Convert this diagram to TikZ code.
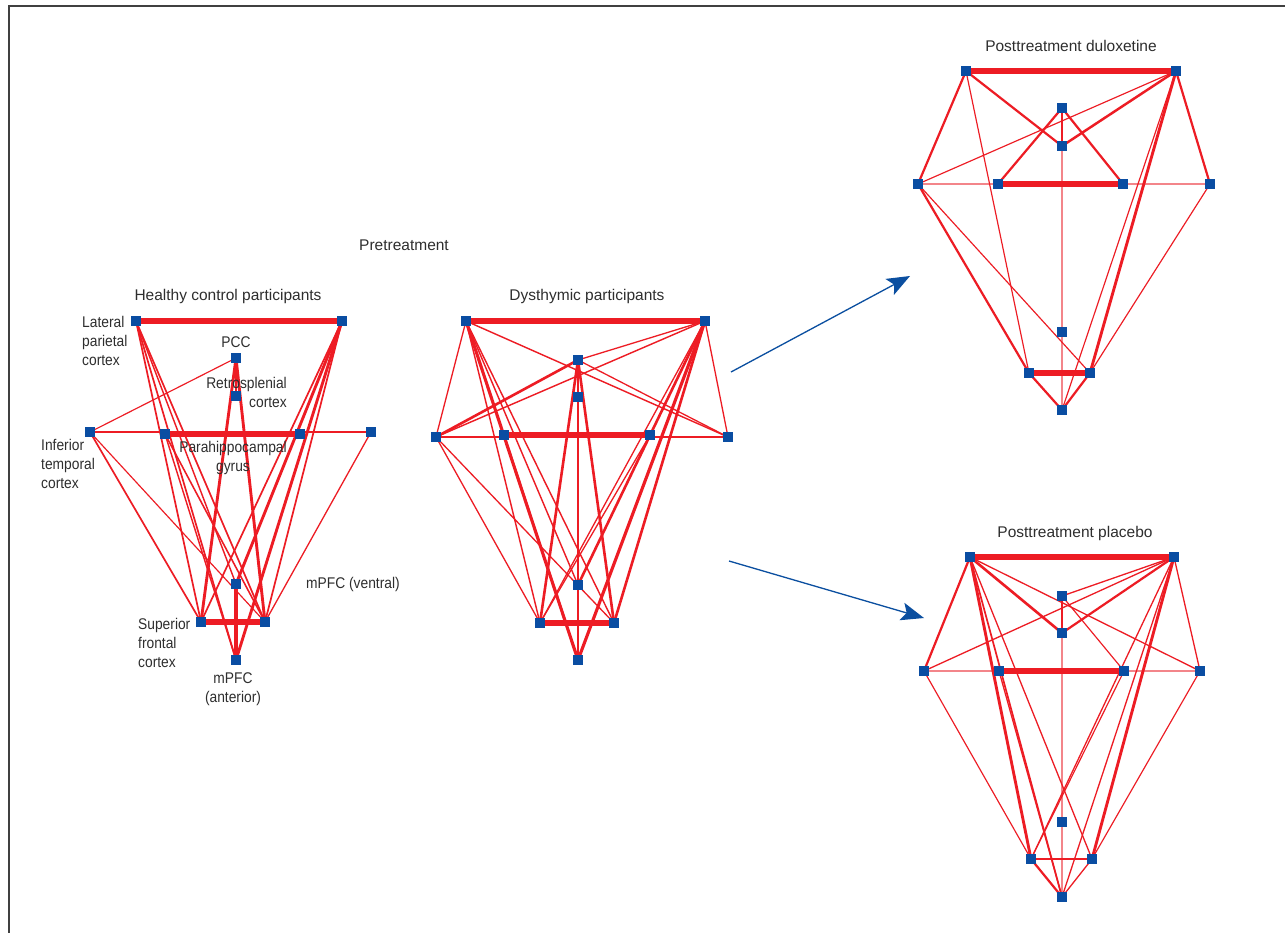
\documentclass[tikz,border=0pt]{standalone}
\usepackage{fontspec}
\setmainfont{Liberation Sans}
\newfontfamily\labfont[FakeStretch=0.89]{Liberation Sans}
\newfontfamily\titfont[FakeStretch=1.0]{Liberation Sans}
\usetikzlibrary{arrows.meta}
\definecolor{netred}{HTML}{ED1C24}
\definecolor{netpink}{HTML}{F3858A}
\definecolor{netblue}{HTML}{0A4DA2}
\definecolor{arrblue}{HTML}{0B4FA0}
\definecolor{txt}{HTML}{2E2E2E}
\pgfdeclarelayer{bg}
\pgfsetlayers{bg,main}
\tikzset{
  sq/.style={rectangle,fill=netblue,inner sep=0pt,minimum size=9.5pt},
  ed/.style={draw=netred,line width=#1*1.3pt},
  lt/.style={draw=netpink,line width=#1*1.3pt},
  lab/.style={text=txt,inner sep=0pt,font=\labfont\fontsize{15.5}{19}\selectfont},
  tit/.style={text=txt,inner sep=0pt,font=\titfont\fontsize{15.5}{19}\selectfont},
  arr/.style={draw=arrblue,line width=1.3pt,-{Stealth[length=23pt,width=18pt,inset=5pt]},fill=arrblue},
  frame/.style={draw=black!75,line width=1.5pt}
}
\begin{document}
\begin{tikzpicture}[x=1pt,y=-1pt]
\useasboundingbox (0,0) rectangle (1285,932);
\begin{pgfonlayer}{bg}
\fill[white] (0,0) rectangle (1285,932);
\end{pgfonlayer}
\coordinate (fa) at (9,940);
\coordinate (fb) at (9,6);
\coordinate (fc) at (1290,6);
\draw[frame] (fa) -- (fb) -- (fc);

% ---------- Healthy control ----------
\node[sq] (hLPL) at (136,321) {};
\node[sq] (hLPR) at (342,321) {};
\node[sq] (hPCC) at (236,358) {};
\node[sq] (hRSC) at (236,396) {};
\node[sq] (hITL) at (90,432) {};
\node[sq] (hITR) at (371,432) {};
\node[sq] (hPHL) at (165,434) {};
\node[sq] (hPHR) at (300,434) {};
\node[sq] (hMV) at (236,584) {};
\node[sq] (hSFL) at (201,622) {};
\node[sq] (hSFR) at (265,622) {};
\node[sq] (hMA) at (236,660) {};
\begin{pgfonlayer}{bg}
\foreach \a/\b/\w in {hITL/hITR/1.0, hITL/hPCC/0.9, hITL/hSFL/1.3, hITL/hSFR/0.9,
  hLPL/hSFL/1.3, hLPL/hMA/1.3, hLPL/hSFR/1.3, hLPL/hMV/1.1, hPHL/hSFR/1.2, hPHL/hMA/1.1,
  hPCC/hRSC/2.0, hPCC/hSFL/2.2, hPCC/hSFR/2.2,
  hLPR/hSFL/1.3, hLPR/hMV/2.2, hLPR/hMA/2.2, hLPR/hSFR/1.3, hITR/hSFR/1.0,
  hMV/hMA/2.4, hLPL/hLPR/4.2, hPHL/hPHR/4.2, hSFL/hSFR/4.2}
  \draw[ed=\w] (\a.center) -- (\b.center);
\end{pgfonlayer}

% ---------- Dysthymic ----------
\node[sq] (dLPL) at (466,321) {};
\node[sq] (dLPR) at (705,321) {};
\node[sq] (dPCC) at (578,360) {};
\node[sq] (dRSC) at (578,397) {};
\node[sq] (dITL) at (436,437) {};
\node[sq] (dITR) at (728,437) {};
\node[sq] (dPHL) at (504,435) {};
\node[sq] (dPHR) at (650,435) {};
\node[sq] (dMV) at (578,585) {};
\node[sq] (dSFL) at (540,623) {};
\node[sq] (dSFR) at (614,623) {};
\node[sq] (dMA) at (578,660) {};
\begin{pgfonlayer}{bg}
\foreach \a/\b/\w in {dITL/dITR/1.1, dLPL/dITL/1.0, dLPR/dITR/1.0, dLPL/dITR/1.1,
  dPCC/dLPR/1.0, dPCC/dITL/2.0, dITL/dLPR/1.1, dPCC/dITR/1.0, dPCC/dRSC/1.5,
  dRSC/dMA/0.8, dPCC/dSFL/2.0, dPCC/dSFR/2.0,
  dLPL/dSFL/1.1, dLPL/dMA/2.4, dLPL/dMV/1.1, dLPL/dSFR/1.1,
  dLPR/dSFL/1.0, dLPR/dMV/2.0, dLPR/dMA/2.4, dLPR/dSFR/2.0,
  dITL/dSFL/1.0, dITL/dSFR/1.0, dPHL/dMA/1.5, dPHR/dSFL/1.0,
  dLPL/dLPR/4.2, dPHL/dPHR/4.2, dSFL/dSFR/4.2}
  \draw[ed=\w] (\a.center) -- (\b.center);
\end{pgfonlayer}

% ---------- Posttreatment duloxetine ----------
\node[sq] (uLPL) at (966,71) {};
\node[sq] (uLPR) at (1176,71) {};
\node[sq] (uPCC) at (1062,108) {};
\node[sq] (uRSC) at (1062,146) {};
\node[sq] (uITL) at (918,184) {};
\node[sq] (uITR) at (1210,184) {};
\node[sq] (uPHL) at (998,184) {};
\node[sq] (uPHR) at (1123,184) {};
\node[sq] (uMV) at (1062,332) {};
\node[sq] (uSFL) at (1029,373) {};
\node[sq] (uSFR) at (1090,373) {};
\node[sq] (uMA) at (1062,410) {};
\begin{pgfonlayer}{bg}
\foreach \a/\b/\w in {uITL/uITR/1.0, uRSC/uMA/1.0}
  \draw[lt=\w] (\a.center) -- (\b.center);
\foreach \a/\b/\w in {uLPL/uITL/1.7, uLPR/uITR/1.7, uLPL/uRSC/1.7, uLPR/uRSC/1.9,
  uPCC/uRSC/1.7, uPCC/uPHL/1.7, uPCC/uPHR/1.7, uITL/uLPR/0.9, uLPL/uSFL/0.9,
  uITL/uSFL/1.7, uITL/uSFR/0.9, uLPR/uSFR/2.2, uLPR/uMA/0.9, uITR/uSFR/0.9,
  uSFL/uMA/1.7, uSFR/uMA/1.7,
  uLPL/uLPR/4.2, uPHL/uPHR/4.2, uSFL/uSFR/4.2}
  \draw[ed=\w] (\a.center) -- (\b.center);
\end{pgfonlayer}

% ---------- Posttreatment placebo ----------
\node[sq] (pLPL) at (970,557) {};
\node[sq] (pLPR) at (1174,557) {};
\node[sq] (pPCC) at (1062,596) {};
\node[sq] (pRSC) at (1062,633) {};
\node[sq] (pITL) at (924,671) {};
\node[sq] (pITR) at (1200,671) {};
\node[sq] (pPHL) at (999,671) {};
\node[sq] (pPHR) at (1124,671) {};
\node[sq] (pMV) at (1062,822) {};
\node[sq] (pSFL) at (1031,859) {};
\node[sq] (pSFR) at (1092,859) {};
\node[sq] (pMA) at (1062,897) {};
\begin{pgfonlayer}{bg}
\foreach \a/\b/\w in {pITL/pITR/1.0, pRSC/pMA/1.2}
  \draw[lt=\w] (\a.center) -- (\b.center);
\foreach \a/\b/\w in {pLPL/pITL/1.7, pLPR/pITR/1.0, pLPL/pRSC/2.0, pLPR/pRSC/1.7,
  pPCC/pRSC/1.7, pLPL/pITR/1.0, pLPR/pPCC/1.0, pLPR/pITL/1.0, pPCC/pPHR/0.9,
  pLPL/pSFL/2.2, pLPL/pMA/1.3, pLPL/pSFR/1.0, pPHL/pMA/1.0, pITL/pSFL/0.9,
  pLPR/pSFR/2.2, pLPR/pSFL/1.0, pLPR/pMA/1.0, pITR/pSFR/0.9, pPHR/pSFL/0.9,
  pSFL/pMA/1.7, pSFR/pMA/1.0, pSFL/pSFR/1.8,
  pLPL/pLPR/4.2, pPHL/pPHR/4.2}
  \draw[ed=\w] (\a.center) -- (\b.center);
\end{pgfonlayer}

% ---------- Arrows ----------
\coordinate (a1s) at (731,372);
\coordinate (a1e) at (910,276);
\coordinate (a2s) at (729,561);
\coordinate (a2e) at (924,618);
\draw[arr] (a1s) -- (a1e);
\draw[arr] (a2s) -- (a2e);

% ---------- Titles ----------
\node[tit] (tPre) at (404,245) {Pretreatment};
\node[tit] (tHC) at (228,296) {Healthy control participants};
\node[tit] (tDy) at (587,296) {Dysthymic participants};
\node[tit] (tDu) at (1071,46) {Posttreatment duloxetine};
\node[tit] (tPl) at (1075,533) {Posttreatment placebo};

% ---------- Region labels ----------
\node[lab,anchor=north west,align=left] (lLP) at (82,316) {Lateral\\parietal\\cortex};
\node[lab] (lPCC) at (236,342) {PCC};
\node[lab,anchor=north east,align=right] (lRSC) at (287,377) {Retrosplenial\\cortex};
\node[lab,anchor=north west,align=left] (lIT) at (41,439) {Inferior\\temporal\\cortex};
\node[lab,anchor=north,align=center] (lPH) at (233,441) {Parahippocampal\\gyrus};
\node[lab,anchor=west] (lMV) at (306,584) {mPFC (ventral)};
\node[lab,anchor=north west,align=left] (lSF) at (138,618) {Superior\\frontal\\cortex};
\node[lab,anchor=north,align=center] (lMA) at (233,672) {mPFC\\(anterior)};
\end{tikzpicture}
\end{document}
